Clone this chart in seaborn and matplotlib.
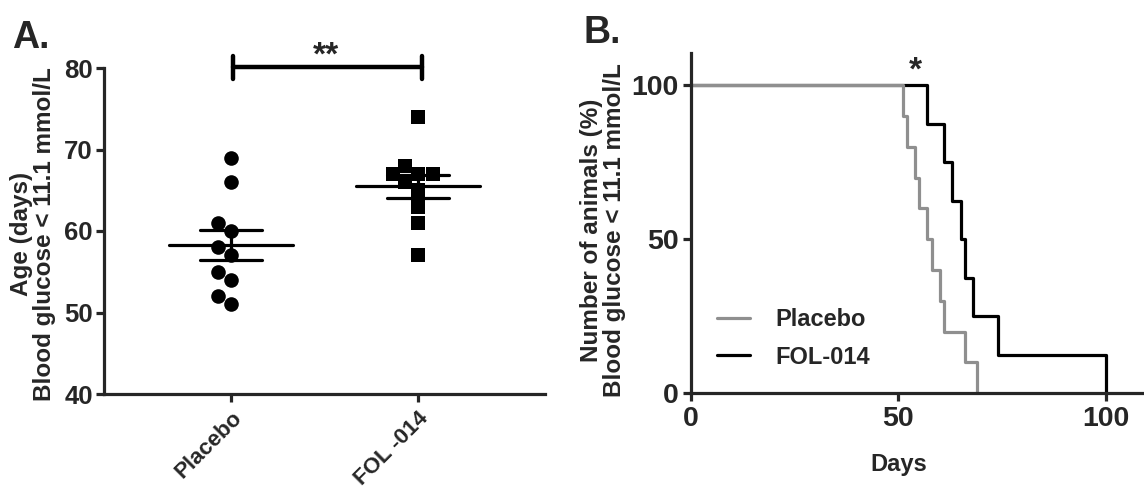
import numpy as np
import pandas as pd
import matplotlib
matplotlib.use("Agg")
import matplotlib.pyplot as plt
import seaborn as sns

# ---------------- data ----------------
groups = ["Placebo", "FOL -014"]
placebo_age = [69, 66, 61, 60, 58, 57, 55, 54, 52, 51]
fol_age = [74, 68, 67, 67, 67, 66, 65, 63, 61, 57]

placebo_days = [0, 51, 52, 54, 55, 57, 58, 60, 61, 66, 69]
placebo_pct = [100, 90, 80, 70, 60, 50, 40, 30, 20, 10, 0]
fol_days = [0, 57, 61, 63, 65, 66, 68, 74, 100]
fol_pct = [100, 87.5, 75, 62.5, 50, 37.5, 25, 12.5, 0]

a_yticks = [40, 50, 60, 70, 80]
b_xticks = [0, 50, 100]
b_yticks = [0, 50, 100]

# ---------------- style ----------------
sns.set_theme(style="ticks")
plt.rcParams["font.family"] = ["Liberation Sans", "DejaVu Sans"]
plt.rcParams["font.weight"] = "bold"
plt.rcParams["axes.labelweight"] = "bold"

LW = 2.3
GRAY = "#8f8f8f"

fig = plt.figure(figsize=(11.44, 4.93), dpi=100)
W, H = 1144, 493

def ax_rect(l, r, t, b):
    return [l / W, 1 - b / H, (r - l) / W, (b - t) / H]

# ---------------- panel A ----------------
axA = fig.add_axes(ax_rect(104, 545, 68, 394))
dfA = pd.DataFrame({
    "group": [groups[0]] * len(placebo_age) + [groups[1]] * len(fol_age),
    "age": placebo_age + fol_age,
})
sns.swarmplot(data=dfA[dfA.group == groups[0]], x="group", y="age", order=groups,
              color="black", marker="o", size=10.5, ax=axA, linewidth=0)
sns.swarmplot(data=dfA[dfA.group == groups[1]], x="group", y="age", order=groups,
              color="black", marker="s", size=10.5, ax=axA, linewidth=0)

for i, vals in enumerate([placebo_age, fol_age]):
    v = np.asarray(vals, float)
    m = v.mean()
    sem = v.std(ddof=1) / np.sqrt(len(v))
    axA.plot([i - 0.33, i + 0.33], [m, m], color="black", lw=LW, zorder=5)
    axA.plot([i - 0.165, i + 0.165], [m + sem, m + sem], color="black", lw=LW, zorder=5)
    axA.plot([i - 0.165, i + 0.165], [m - sem, m - sem], color="black", lw=LW, zorder=5)
    axA.plot([i, i], [m - sem, m + sem], color="black", lw=LW, zorder=5)

axA.set_xlim(-0.68, 1.68)
axA.set_ylim(40, 80)
axA.set_yticks(a_yticks)
axA.set_xlabel("")
axA.set_ylabel("Age (days)\nBlood glucose < 11.1 mmol/L", fontsize=17.5,
               fontweight="bold", linespacing=1.0)
axA.yaxis.set_label_coords(-0.108, 0.49)
axA.set_xticks([0, 1])
axA.set_xticklabels(groups, rotation=45, ha="right", rotation_mode="anchor",
                    fontsize=16, fontweight="bold")
axA.tick_params(axis="y", labelsize=18.5, width=LW, length=6, pad=2)
axA.tick_params(axis="x", width=LW, length=6, pad=4)
for s in ["top", "right"]:
    axA.spines[s].set_visible(False)
for s in ["left", "bottom"]:
    axA.spines[s].set_linewidth(LW)

# significance bracket
yb = 80.1
axA.plot([0.01, 1.02], [yb, yb], color="black", lw=3.2, clip_on=False)
axA.plot([0.01, 0.01], [yb - 1.4, yb + 1.4], color="black", lw=3.2, clip_on=False)
axA.plot([1.02, 1.02], [yb - 1.4, yb + 1.4], color="black", lw=3.2, clip_on=False)
axA.text(0.51, yb - 0.5, "**", ha="center", va="bottom", fontsize=24,
         fontweight="bold", clip_on=False)

# ---------------- panel B ----------------
axB = fig.add_axes(ax_rect(691, 1144, 53, 393.3))
dfP = pd.DataFrame({"days": placebo_days, "pct": placebo_pct})
dfF = pd.DataFrame({"days": fol_days, "pct": fol_pct})
sns.lineplot(data=dfF, x="days", y="pct", drawstyle="steps-post", color="black",
             lw=LW, ax=axB, label="FOL-014", zorder=3, clip_on=False)
sns.lineplot(data=dfP, x="days", y="pct", drawstyle="steps-post", color=GRAY,
             lw=LW, ax=axB, label="Placebo", zorder=4, clip_on=False)

axB.set_xlim(0, 109.2)
axB.set_ylim(0, 110.4)
axB.set_xticks(b_xticks)
axB.set_yticks(b_yticks)
axB.tick_params(axis="both", labelsize=20.5, width=LW, length=6, pad=3)
axB.set_xlabel("Days", fontsize=17, fontweight="bold")
axB.xaxis.set_label_coords(50 / 109.2, -0.175)
axB.set_ylabel("Number of animals (%)\nBlood glucose < 11.1 mmol/L", fontsize=17.5,
               fontweight="bold", linespacing=1.0)
axB.yaxis.set_label_coords(-0.143, 0.48)
for s in ["top", "right"]:
    axB.spines[s].set_visible(False)
for s in ["left", "bottom"]:
    axB.spines[s].set_linewidth(LW)
    axB.spines[s].set_zorder(6)

handles, labels = axB.get_legend_handles_labels()
order = [labels.index("Placebo"), labels.index("FOL-014")]
leg = axB.legend([handles[k] for k in order], [labels[k] for k in order],
                 loc="lower left", bbox_to_anchor=(0.01, 0.01), frameon=False,
                 fontsize=17, handlelength=1.4, handletextpad=1.1, labelspacing=0.6)

axB.text(54, 99.5, "*", ha="center", va="bottom", fontsize=24, fontweight="bold")

# panel letters
fig.text(12 / W, 1 - 20 / H, "A.", fontsize=27, fontweight="bold", va="top", ha="left")
fig.text(583 / W, 1 - 15 / H, "B.", fontsize=27, fontweight="bold", va="top", ha="left")

fig.savefig("out.png", dpi=100)
